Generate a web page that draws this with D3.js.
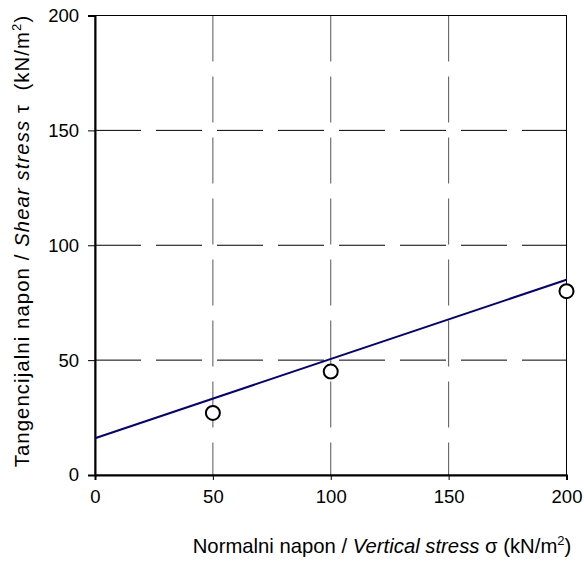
<!DOCTYPE html>
<html><head><meta charset="utf-8">
<script src="https://cdn.jsdelivr.net/npm/d3@7"></script>
<style>body{margin:0;background:#fff}svg{display:block}text{font-family:"Liberation Sans",Arial,sans-serif}</style>
</head><body><svg id="c" width="584" height="561"></svg>
<script>
const xTicks = [0, 50, 100, 150, 200];
const yTicks = [0, 50, 100, 150, 200];
const pointsX = [50, 100, 200];
const pointsY = [27, 45, 80];
const fitX = [0, 200];
const fitY = [16, 85];

const svg = d3.select("#c");
const m = {l: 95, t: 15.5, r: 566.5, b: 475};
const x = d3.scaleLinear().domain([0, 200]).range([m.l, m.r]);
const y = d3.scaleLinear().domain([0, 200]).range([m.b, m.t]);

// gridlines
svg.append("g").selectAll("line").data(yTicks.filter(d => d > 0 && d < 200)).join("line")
  .attr("x1", m.l).attr("x2", m.r).attr("y1", d => y(d)).attr("y2", d => y(d))
  .attr("stroke", "#000").attr("stroke-width", 1).attr("stroke-dasharray", "46,15");
svg.append("g").selectAll("line").data(xTicks.filter(d => d > 0 && d < 200)).join("line")
  .attr("x1", d => x(d)).attr("x2", d => x(d)).attr("y1", m.t).attr("y2", m.b)
  .attr("stroke", "#555").attr("stroke-width", 1).attr("stroke-dasharray", "46,15");

// frame
svg.append("rect").attr("x", m.l).attr("y", m.t).attr("width", m.r - m.l).attr("height", m.b - m.t)
  .attr("fill", "none").attr("stroke", "#000").attr("stroke-width", 1);

// axes
const xa = svg.append("g").attr("transform", `translate(0,${m.b})`)
  .call(d3.axisBottom(x).tickValues(xTicks).tickSize(5).tickPadding(10));
const ya = svg.append("g").attr("transform", `translate(${m.l},0)`)
  .call(d3.axisLeft(y).tickValues(yTicks).tickSize(7).tickPadding(9));
[xa, ya].forEach(a => {
  a.select(".domain").attr("stroke", "#000").attr("stroke-width", 2);
  a.selectAll(".tick line").attr("stroke", "#000").attr("stroke-width", 1);
  a.selectAll(".tick text").attr("font-size", 18.5).attr("fill", "#000")
   .style("font-family", '"Liberation Sans",Arial,sans-serif');
});

// fit line
const line = d3.line().x((d, i) => x(fitX[i])).y((d, i) => y(fitY[i]));
svg.append("path").datum(fitX).attr("d", line).attr("fill", "none")
  .attr("stroke", "#000080").attr("stroke-width", 2);

// points
svg.append("g").selectAll("circle").data(pointsX).join("circle")
  .attr("cx", d => x(d)).attr("cy", (d, i) => y(pointsY[i])).attr("r", 7)
  .attr("fill", "#fff").attr("stroke", "#000").attr("stroke-width", 2);

// titles
const xt = svg.append("text").attr("x", 382).attr("y", 553).attr("text-anchor", "middle")
  .attr("font-size", 20.3).attr("fill", "#000").attr("xml:space", "preserve");
xt.append("tspan").text("Normalni napon / ");
xt.append("tspan").attr("font-style", "italic").text("Vertical stress");
xt.append("tspan").text(" σ (kN/m");
xt.append("tspan").attr("font-size", 13).attr("dy", -8).text("2");
xt.append("tspan").attr("dy", 8).text(")");

const yt = svg.append("text").attr("transform", "translate(29,241) rotate(-90)").attr("text-anchor", "middle")
  .attr("font-size", 20.3).attr("letter-spacing", 1.1).attr("fill", "#000").attr("xml:space", "preserve");
yt.append("tspan").text("Tangencijalni napon / ");
yt.append("tspan").attr("font-style", "italic").text("Shear stress");
yt.append("tspan").text(" τ  (kN/m");
yt.append("tspan").attr("font-size", 13).attr("dy", -8).text("2");
yt.append("tspan").attr("dy", 8).text(")");
</script></body></html>
